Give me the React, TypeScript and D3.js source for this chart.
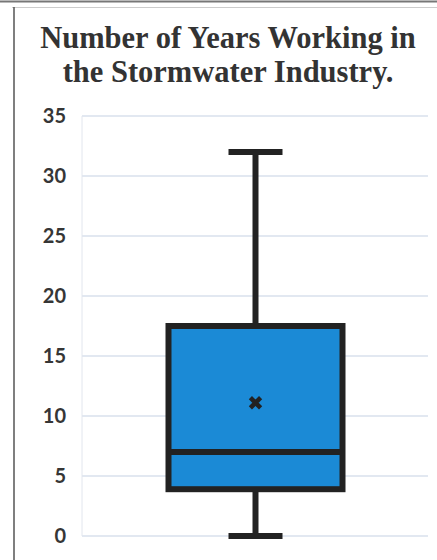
import React from "react";
import * as d3 from "d3";

const titleLines = ["Number of Years Working in", "the Stormwater Industry."];
const yTicks = [0, 5, 10, 15, 20, 25, 30, 35];
const boxStats = { min: 0, q1: 3.9, median: 7, q3: 17.5, max: 32, mean: 11.1 };
const category = ["Years"];

export default function App() {
  const W = 437, H = 560;
  const plotLeft = 82, plotRight = 428;
  const y = d3.scaleLinear().domain([0, 35]).range([536, 116]);
  const x = d3.scaleBand().domain(category).range([plotLeft, plotRight]).paddingInner(0).paddingOuter(0.5);
  const cx = x(category[0])! + x.bandwidth() / 2 + 0.5;
  const boxW = 174;
  const boxL = cx - boxW / 2, boxR = cx + boxW / 2;
  const capW = 54;
  const stroke = "#222222";
  const sw = 6;
  return (
    <svg width={W} height={H} style={{ position: "absolute", left: 0, top: 0, background: "#fff" }}>
      <rect x={0} y={0} width={W} height={H} fill="#fff" />
      <line x1={0} x2={W} y1={1.5} y2={1.5} stroke="#777" strokeWidth={2} />
      <line x1={12} x2={W} y1={7.5} y2={7.5} stroke="#ccc" strokeWidth={1} />
      <line x1={14} x2={14} y1={7} y2={H} stroke="#555" strokeWidth={1.5} />
      {titleLines.map((t, i) => (
        <text key={i} x={228} y={48 + i * 34} textAnchor="middle" fontFamily="'Liberation Serif', 'Times New Roman', serif"
          fontWeight="bold" fontSize={30.5} fill="#333">{t}</text>
      ))}
      {yTicks.map((t) => (
        <g key={t}>
          <line x1={plotLeft} x2={plotRight} y1={y(t)} y2={y(t)} stroke="#c6d2e4" strokeWidth={1.2} />
          <text x={66} y={y(t) + 7} textAnchor="end" fontFamily="Lato, 'Open Sans', sans-serif"
            fontWeight="bold" fontSize={20} fill="#363636">{t}</text>
        </g>
      ))}
      <line x1={plotLeft} x2={plotLeft} y1={y(35)} y2={y(0)} stroke="#e2e6ee" strokeWidth={1} />
      <line x1={cx} x2={cx} y1={y(boxStats.max)} y2={y(boxStats.q3)} stroke={stroke} strokeWidth={sw} />
      <line x1={cx} x2={cx} y1={y(boxStats.min)} y2={y(boxStats.q1)} stroke={stroke} strokeWidth={sw} />
      <line x1={cx - capW / 2} x2={cx + capW / 2} y1={y(boxStats.max)} y2={y(boxStats.max)} stroke={stroke} strokeWidth={sw} />
      <line x1={cx - capW / 2} x2={cx + capW / 2} y1={y(boxStats.min)} y2={y(boxStats.min)} stroke={stroke} strokeWidth={sw} />
      <rect x={boxL} y={y(boxStats.q3)} width={boxR - boxL} height={y(boxStats.q1) - y(boxStats.q3)}
        fill="#1b8ad6" stroke={stroke} strokeWidth={sw} />
      <line x1={boxL} x2={boxR} y1={y(boxStats.median)} y2={y(boxStats.median)} stroke={stroke} strokeWidth={sw} />
      <path d={d3.symbol(d3.symbolX, 70)()!} transform={`translate(${cx},${y(boxStats.mean)})`} stroke={stroke} strokeWidth={4.5} fill="none" />
    </svg>
  );
}
